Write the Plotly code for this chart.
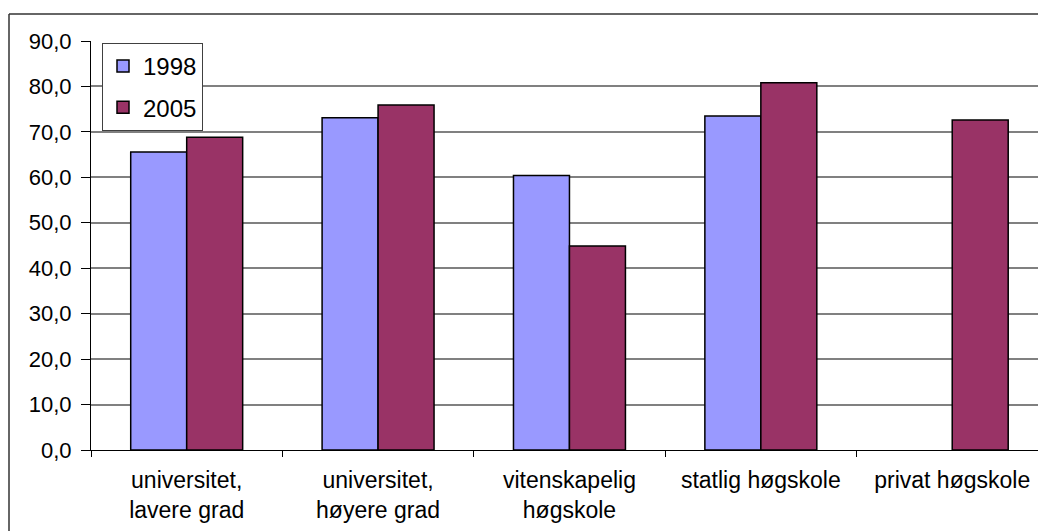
import plotly.graph_objects as go

categories = ["universitet,<br>lavere grad", "universitet,<br>høyere grad",
              "vitenskapelig<br>høgskole", "statlig høgskole", "privat høgskole"]
series_names = ["1998", "2005"]
values_1998 = [65.6, 73.1, 60.4, 73.5, None]
values_2005 = [68.8, 75.9, 44.9, 80.8, 72.6]
y_tickvals = [0, 10, 20, 30, 40, 50, 60, 70, 80, 90]
y_ticktext = ["0,0", "10,0", "20,0", "30,0", "40,0", "50,0", "60,0", "70,0", "80,0", "90,0"]

colors = ["#9999FF", "#993366"]
FONT = "Liberation Sans, Arial, sans-serif"
FS = 23

fig = go.Figure()
for i, (name, vals) in enumerate(zip(series_names, [values_1998, values_2005])):
    fig.add_trace(go.Bar(
        x=categories, y=vals, name=name, legendgroup=name,
        marker=dict(color=colors[i], line=dict(color="black", width=1.5)),
    ))

# page body has an 8px margin; figure placed at (8,8) on screen
W, H = 1038, 523
L, R, T, B = 83, 0, 33, 81
pw, ph = W - L - R, H - T - B

fig.update_layout(
    width=W, height=H,
    margin=dict(l=L, r=R, t=T, b=B, pad=0),
    paper_bgcolor="white", plot_bgcolor="white",
    barmode="group", bargap=0.415, bargroupgap=0,
    font=dict(family=FONT, size=FS, color="black"),
    legend=dict(
        x=(94 - L) / pw, y=1 - (35 - T) / ph, xanchor="left", yanchor="top",
        bgcolor="white", bordercolor="#404040", borderwidth=1,
        font=dict(family=FONT, size=24, color="black"),
        tracegroupgap=7, traceorder="grouped",
    ),
    xaxis=dict(
        range=[-0.5, 4.49], showgrid=False, showline=True, linecolor="black", linewidth=1,
        ticks="outside", tickson="boundaries", ticklen=6, tickcolor="black", tickwidth=1,
        ticklabelstandoff=9, tickfont=dict(family=FONT, size=FS, color="black"),
        fixedrange=True,
    ),
    yaxis=dict(
        range=[0, 90], tickvals=y_tickvals, ticktext=y_ticktext,
        showgrid=True, gridcolor="#808080", gridwidth=1.5,
        showline=True, linecolor="black", linewidth=1,
        ticks="outside", ticklen=9, tickcolor="black", tickwidth=1,
        ticklabelstandoff=5, tickfont=dict(family=FONT, size=22, color="black"),
        zeroline=False, fixedrange=True,
    ),
    shapes=[
        dict(type="line", xref="paper", yref="paper",
             x0=(1 - L) / pw, x1=1.05, y0=1 + (T - 6) / ph, y1=1 + (T - 6) / ph,
             line=dict(color="#333333", width=1.5)),
        dict(type="line", xref="paper", yref="paper",
             x0=(1 - L) / pw, x1=(1 - L) / pw, y0=-0.3, y1=1 + (T - 6) / ph,
             line=dict(color="#333333", width=1.5)),
    ],
)

fig.write_html("out.html")
